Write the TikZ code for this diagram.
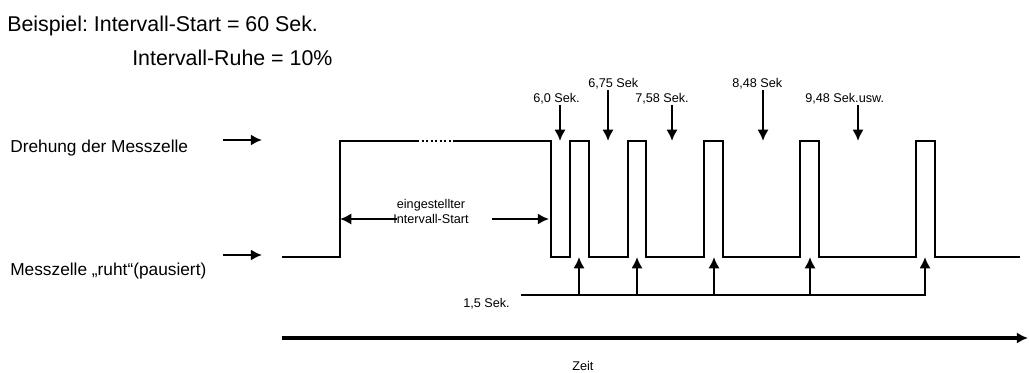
\documentclass[tikz,border=0pt]{standalone}
\usepackage{fontspec}
\setmainfont{Liberation Sans}
\usetikzlibrary{arrows.meta, positioning}

\tikzset{
    signal/.style={line width=1.3pt, line join=miter},
    pfeil/.style={line width=2pt, -{Latex[length=8pt, width=8pt]}},
    klein/.style={font=\fontsize{9}{10}\selectfont, inner sep=0pt, anchor=base west},
    mittel/.style={font=\fontsize{12.3}{14}\selectfont, inner sep=0pt, anchor=base west},
    gross/.style={font=\fontsize{15.2}{18}\selectfont, inner sep=0pt, anchor=base west}
}

\begin{document}
\frenchspacing
\begin{tikzpicture}[x=0.025cm, y=-0.025cm]
    \useasboundingbox (0,0) rectangle (1029,373);

    % =================================================================
    % 1. UEBERSCHRIFT UND BESCHRIFTUNG LINKS
    % =================================================================
    \node[gross] (titel) at (7,32) {Beispiel: Intervall-Start = 60 Sek.};
    \node[gross] (ruhe) at (132,66) {Intervall-Ruhe = 10\%};

    \node[mittel] (dreh) at (10,153) {Drehung der Messzelle};
    \node[mittel] (pause) at (10,275) {Messzelle „ruht“(pausiert)};

    \coordinate (DrehA) at (223,140);
    \coordinate (DrehB) at (262,140);
    \coordinate (PauseA) at (223,255);
    \coordinate (PauseB) at (262,255);
    \draw[pfeil] (DrehA) -- (DrehB);
    \draw[pfeil] (PauseA) -- (PauseB);

    % =================================================================
    % 2. SIGNALVERLAUF DER MESSZELLE
    % =================================================================
    \draw[signal] (282,257) -- (340,257) -- (340,141) -- (417,141);
    \draw[signal, dash pattern=on 1.6pt off 1.6pt] (417,141) -- (453,141);
    \draw[signal] (453,141) -- (551,141) -- (551,257)
        foreach \a/\b in {570/589, 628/646, 704/723, 800/819, 916/935} {
            -- (\a,257) -- (\a,141) -- (\b,141) -- (\b,257)
        } -- (1020,257);

    % eingestellter Intervall-Start
    \node[klein, anchor=base, align=center] (start) at (431,224)
        {eingestellter\\[1pt]Intervall-Start};
    \coordinate (StartL) at (397,219);
    \coordinate (StartR) at (492,219);
    \draw[pfeil] (StartL) -- (340,219);
    \draw[pfeil] (StartR) -- (549,219);

    % =================================================================
    % 3. PAUSENZEITEN OBEN
    % =================================================================
    \node[klein] (p1) at (533,103) {6,0 Sek.};
    \node[klein] (p2) at (588,88) {6,75 Sek};
    \node[klein] (p3) at (635,103) {7,58 Sek.};
    \node[klein] (p4) at (732,88) {8,48 Sek};
    \node[klein] (p5) at (805,103) {9,48 Sek.usw.};

    \coordinate (d1) at (560,141);
    \coordinate (d2) at (608,141);
    \coordinate (d3) at (672,141);
    \coordinate (d4) at (763,141);
    \coordinate (d5) at (858,141);
    \foreach \i in {1,...,5}
        \draw[pfeil] (d\i |- p\i.south) -- (d\i);

    % =================================================================
    % 4. LAUFZEIT 1,5 SEK. UNTEN
    % =================================================================
    \node[klein] (lauf) at (463,307) {1,5 Sek.};
    \coordinate (LaufA) at (521,295);
    \coordinate (LaufB) at (925,295);
    \draw[line width=1.5pt] (LaufA) -- (LaufB);
    \foreach \x in {579,637,714,810,925}
        \draw[pfeil] (\x,296) -- (\x,257);

    % =================================================================
    % 5. ZEITACHSE
    % =================================================================
    \coordinate (ZeitA) at (282,338);
    \coordinate (ZeitB) at (1028,338);
    \draw[pfeil, line width=2.2pt] (ZeitA) -- (ZeitB);
    \node[klein] (zeit) at (572,370) {Zeit};

\end{tikzpicture}
\end{document}
